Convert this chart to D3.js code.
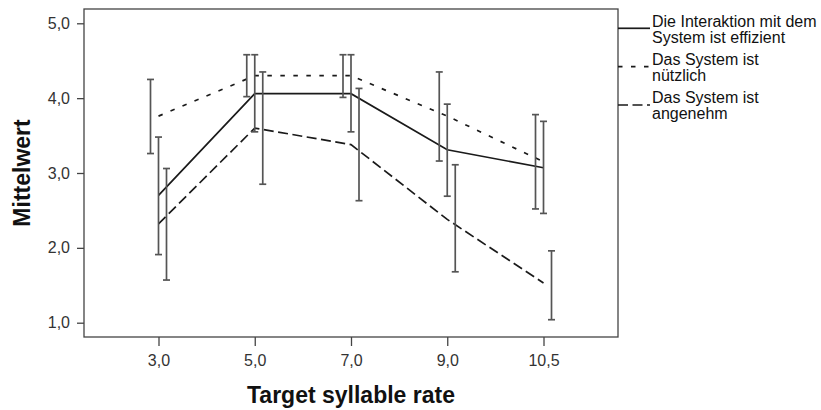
<!DOCTYPE html>
<html>
<head>
<meta charset="utf-8">
<script src="https://cdn.jsdelivr.net/npm/d3@7"></script>
<style>
  html, body { margin: 0; padding: 0; background: #fff; }
  svg { display: block; }
</style>
</head>
<body>
<script>
// ---- data ----
const categories = ["3,0", "5,0", "7,0", "9,0", "10,5"];
const seriesNames = [
  ["Die Interaktion mit dem", "System ist effizient"],
  ["Das System ist", "nützlich"],
  ["Das System ist", "angenehm"]
];
const meanEffizient = [2.70, 4.06, 4.06, 3.31, 3.07];
const lowEffizient  = [1.91, 3.55, 3.55, 2.69, 2.46];
const highEffizient = [3.48, 4.58, 4.58, 3.92, 3.69];
const meanNuetzlich = [3.76, 4.30, 4.30, 3.76, 3.15];
const lowNuetzlich  = [3.26, 4.02, 4.01, 3.16, 2.52];
const highNuetzlich = [4.25, 4.58, 4.58, 4.35, 3.78];
const meanAngenehm  = [2.32, 3.60, 3.38, 2.38, 1.53];
const lowAngenehm   = [1.57, 2.85, 2.63, 1.68, 1.04];
const highAngenehm  = [3.06, 4.35, 4.13, 3.11, 1.96];
const yTicks = [1, 2, 3, 4, 5];
const xTitle = "Target syllable rate";
const yTitle = "Mittelwert";

// ---- layout ----
const W = 821, H = 410;
const L = 84, R = 618, T = 9, B = 337;

const svg = d3.select("body").append("svg").attr("width", W).attr("height", H);

const x = d3.scalePoint().domain(categories).range([L, R]).padding(0.774);
const y = d3.scaleLinear().domain([0.809, 5.191]).range([B, T]);
const fmt = d => d.toFixed(1).replace(".", ",");

const series = [
  { mean: meanEffizient, low: lowEffizient, high: highEffizient, dash: null, off: 0 },
  { mean: meanNuetzlich, low: lowNuetzlich, high: highNuetzlich, dash: "4.5,8.5", off: -8 },
  { mean: meanAngenehm, low: lowAngenehm, high: highAngenehm, dash: "10,4.5", off: 8 }
];

// frame
svg.append("rect").attr("x", L).attr("y", T).attr("width", R - L).attr("height", B - T)
  .attr("fill", "none").attr("stroke", "#444").attr("stroke-width", 1.3);

// y axis
const gy = svg.append("g").attr("transform", `translate(${L},0)`)
  .call(d3.axisLeft(y).tickValues(yTicks).tickSize(7).tickPadding(7).tickFormat(fmt));
gy.select(".domain").remove();
gy.selectAll(".tick line").attr("stroke", "#444").attr("stroke-width", 1.3);
gy.selectAll(".tick text").attr("font-family", "Liberation Sans, Arial, sans-serif")
  .attr("font-size", 16).attr("fill", "#333");

// x axis
const gx = svg.append("g").attr("transform", `translate(0,${B})`)
  .call(d3.axisBottom(x).tickSize(9).tickPadding(9));
gx.select(".domain").remove();
gx.selectAll(".tick line").attr("stroke", "#444").attr("stroke-width", 1.3);
gx.selectAll(".tick text").attr("font-family", "Liberation Sans, Arial, sans-serif")
  .attr("font-size", 16).attr("fill", "#333");

// titles
svg.append("text").attr("x", (L + R) / 2).attr("y", 403).attr("text-anchor", "middle")
  .attr("font-family", "Liberation Sans, Arial, sans-serif").attr("font-weight", "bold")
  .attr("font-size", 23).attr("fill", "#111").text(xTitle);
svg.append("text").attr("transform", `translate(30,${(T + B) / 2}) rotate(-90)`)
  .attr("text-anchor", "middle")
  .attr("font-family", "Liberation Sans, Arial, sans-serif").attr("font-weight", "bold")
  .attr("font-size", 23).attr("fill", "#111").text(yTitle);

// lines
const line = d3.line().x((d, i) => x(categories[i])).y(d => y(d));
series.forEach(s => {
  svg.append("path").datum(s.mean).attr("d", line)
    .attr("fill", "none").attr("stroke", "#1a1a1a").attr("stroke-width", 1.7)
    .attr("stroke-dasharray", s.dash);
});

// error bars
series.forEach(s => {
  const g = svg.append("g").attr("stroke", "#555").attr("stroke-width", 1.7);
  categories.forEach((c, i) => {
    const cx = x(c) + s.off;
    g.append("line").attr("x1", cx).attr("x2", cx).attr("y1", y(s.low[i])).attr("y2", y(s.high[i]));
    g.append("line").attr("x1", cx - 3.5).attr("x2", cx + 3.5).attr("y1", y(s.low[i])).attr("y2", y(s.low[i]));
    g.append("line").attr("x1", cx - 3.5).attr("x2", cx + 3.5).attr("y1", y(s.high[i])).attr("y2", y(s.high[i]));
  });
});

// legend
const legY = [28.3, 66.7, 105];
series.forEach((s, k) => {
  svg.append("line").attr("x1", R).attr("x2", 650).attr("y1", legY[k]).attr("y2", legY[k])
    .attr("stroke", "#1a1a1a").attr("stroke-width", 1.7).attr("stroke-dasharray", s.dash);
  const t = svg.append("text").attr("x", 652).attr("y", legY[k] - 1.6)
    .attr("font-family", "Liberation Sans, Arial, sans-serif").attr("font-size", 16).attr("fill", "#111");
  seriesNames[k].forEach((ln, j) => {
    t.append("tspan").attr("x", 652).attr("dy", j === 0 ? 0 : 16).text(ln);
  });
});
</script>
</body>
</html>
